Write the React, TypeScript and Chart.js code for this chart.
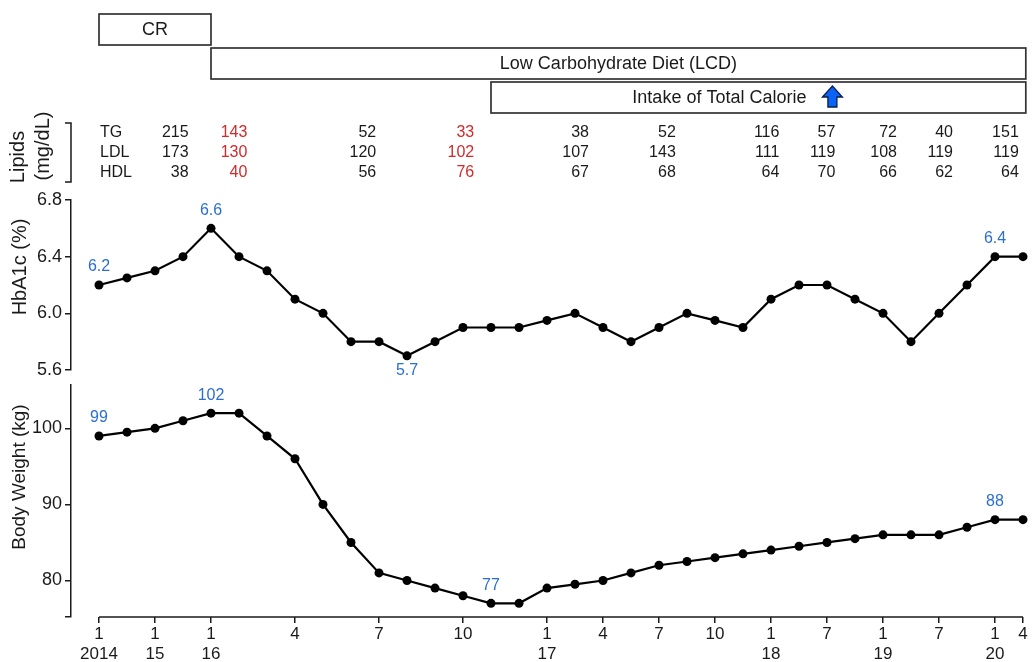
import React, { useEffect, useRef } from 'react';
import { Chart, registerables } from 'chart.js';

Chart.register(...registerables);

// ---------------- data ----------------
const hba1c = [6.2, 6.25, 6.3, 6.4, 6.6, 6.4, 6.3, 6.1, 6.0, 5.8, 5.8, 5.7, 5.8, 5.9, 5.9, 5.9, 5.95, 6.0, 5.9, 5.8, 5.9, 6.0, 5.95, 5.9, 6.1, 6.2, 6.2, 6.1, 6.0, 5.8, 6.0, 6.2, 6.4, 6.4];
const weight = [99, 99.5, 100, 101, 102, 102, 99, 96, 90, 85, 81, 80, 79, 78, 77, 77, 79, 79.5, 80, 81, 82, 82.5, 83, 83.5, 84, 84.5, 85, 85.5, 86, 86, 86, 87, 88, 88];

const tickIndex = [0, 2, 4, 7, 10, 13, 16, 18, 20, 22, 24, 26, 28, 30, 32, 33];
const tickMonth = ['1', '1', '1', '4', '7', '10', '1', '4', '7', '10', '1', '7', '1', '7', '1', '4'];
const tickYear = ['2014', '15', '16', '', '', '', '17', '', '', '', '18', '', '19', '', '20', ''];

const hbaTicks = [5.6, 6.0, 6.4, 6.8];
const hbaMin = 5.6;
const hbaMax = 6.8;
const weightTicks = [80, 90, 100];
const weightMin = 75.2;
const weightMax = 105.7;

const hbaMarked = [0, 4, 11, 32];
const hbaMarkBelow = [11];
const weightMarked = [0, 4, 14, 32];

const lipidRows = ['TG', 'LDL', 'HDL'];
const tg = [215, 143, 52, 33, 38, 52, 116, 57, 72, 40, 151];
const ldl = [173, 130, 120, 102, 107, 143, 111, 119, 108, 119, 119];
const hdl = [38, 40, 56, 76, 67, 68, 64, 70, 66, 62, 64];
const lipidTime = [3.2, 5.3, 9.9, 13.4, 17.5, 20.6, 24.3, 26.3, 28.5, 30.5, 32.85];
const lipidRed = [1, 3];

const phaseNames = ['CR', 'Low Carbohydrate Diet (LCD)', 'Intake of Total Calorie'];
const phaseStart = [0, 4, 14];
const phaseEnd = [4, 33.1, 33.1];

// ---------------- style ----------------
const FONT = '"Liberation Sans", Arial, "Noto Sans CJK JP", sans-serif';
const INK = '#1a1a1a';
const BLUE = '#2b6fd1';
const RED = '#d22a2a';

Chart.defaults.font.family = FONT;
Chart.defaults.color = INK;

function vText(ctx: CanvasRenderingContext2D, text: string, cx: number, cy: number, size: number) {
  ctx.save();
  ctx.translate(cx, cy);
  ctx.rotate(-Math.PI / 2);
  ctx.font = `${size}px ${FONT}`;
  ctx.textAlign = 'center';
  ctx.textBaseline = 'middle';
  ctx.fillStyle = INK;
  ctx.fillText(text, 0, 0);
  ctx.restore();
}

const topPlugin = {
  id: 'topDecor',
  afterDraw(chart: any) {
    const { ctx, chartArea } = chart;
    const x = chart.scales.x;
    ctx.save();
    // phase boxes
    const rowTop = [14, 48, 82];
    const h = 31;
    phaseNames.forEach((name, i) => {
      const x0 = x.getPixelForValue(phaseStart[i]);
      const x1 = x.getPixelForValue(phaseEnd[i]);
      ctx.strokeStyle = '#333';
      ctx.lineWidth = 1.7;
      ctx.strokeRect(x0, rowTop[i], x1 - x0, h);
      ctx.font = `18px ${FONT}`;
      ctx.fillStyle = INK;
      ctx.textAlign = 'center';
      ctx.textBaseline = 'middle';
      let cx = (x0 + x1) / 2;
      const cy = rowTop[i] + h / 2 + 1;
      if (i === 2) {
        const ax = cx + 74;
        cx -= 39;
        const top = 86, mid = 97, bot = 107, hw = 10, sw = 4.5;
        ctx.beginPath();
        ctx.moveTo(ax, top);
        ctx.lineTo(ax + hw, mid);
        ctx.lineTo(ax + sw, mid);
        ctx.lineTo(ax + sw, bot);
        ctx.lineTo(ax - sw, bot);
        ctx.lineTo(ax - sw, mid);
        ctx.lineTo(ax - hw, mid);
        ctx.closePath();
        ctx.fillStyle = '#0b63f5';
        ctx.fill();
        ctx.strokeStyle = '#0a1f4d';
        ctx.lineWidth = 1.3;
        ctx.stroke();
        ctx.fillStyle = INK;
      }
      ctx.fillText(name, cx, cy);
    });

    // lipid table
    const rowY = [133, 153, 173];
    const rowsData = [tg, ldl, hdl];
    ctx.font = `16px ${FONT}`;
    ctx.textBaseline = 'middle';
    lipidRows.forEach((r, ri) => {
      ctx.textAlign = 'left';
      ctx.fillStyle = INK;
      ctx.fillText(r, x.getPixelForValue(0) + 1, rowY[ri]);
      ctx.textAlign = 'right';
      rowsData[ri].forEach((v, c) => {
        ctx.fillStyle = lipidRed.includes(c) ? RED : INK;
        ctx.fillText(String(v), x.getPixelForValue(lipidTime[c]), rowY[ri]);
      });
    });

    // bracket
    const bx = chartArea.left;
    ctx.strokeStyle = INK;
    ctx.lineWidth = 1.5;
    ctx.beginPath();
    ctx.moveTo(bx - 6, 123);
    ctx.lineTo(bx, 123);
    ctx.lineTo(bx, 182);
    ctx.lineTo(bx - 6, 182);
    ctx.stroke();

    // titles
    vText(ctx, 'Lipids', 18, 157, 20);
    vText(ctx, '(mg/dL)', 43, 146, 20);
    vText(ctx, 'HbA1c (%)', 20, 267, 20);

    // value labels
    const meta = chart.getDatasetMeta(0);
    ctx.font = `16px ${FONT}`;
    ctx.fillStyle = BLUE;
    ctx.textAlign = 'center';
    ctx.textBaseline = 'middle';
    hbaMarked.forEach((i) => {
      const p = meta.data[i];
      const below = hbaMarkBelow.includes(i);
      ctx.fillText(hba1c[i].toFixed(1), p.x, p.y + (below ? 15 : -18));
    });
    ctx.restore();
  },
};

const bottomPlugin = {
  id: 'bottomDecor',
  afterDraw(chart: any) {
    const { ctx, chartArea } = chart;
    const x = chart.scales.x;
    ctx.save();
    // x baseline
    ctx.strokeStyle = INK;
    ctx.lineWidth = 1.5;
    ctx.beginPath();
    ctx.moveTo(x.getPixelForValue(0), chartArea.bottom);
    ctx.lineTo(x.getPixelForValue(weight.length - 1), chartArea.bottom);
    ctx.stroke();

    vText(ctx, 'Body Weight (kg)', 20, 477, 19);

    const meta = chart.getDatasetMeta(0);
    ctx.font = `16px ${FONT}`;
    ctx.fillStyle = BLUE;
    ctx.textAlign = 'center';
    ctx.textBaseline = 'middle';
    weightMarked.forEach((i) => {
      const p = meta.data[i];
      ctx.fillText(String(weight[i]), p.x, p.y - 18);
    });
    ctx.restore();
  },
};

const lineDataset = (vals: number[]) => ({
  data: vals.map((v, i) => ({ x: i, y: v })),
  borderColor: '#000',
  borderWidth: 2.2,
  pointRadius: 4.5,
  pointBackgroundColor: '#000',
  pointBorderWidth: 0,
  tension: 0,
  clip: false as any,
});

const yCommon = {
  grid: { drawOnChartArea: false, tickLength: 6, color: INK, lineWidth: 1.5 },
  border: { color: INK, width: 1.5 },
  afterFit: (s: any) => { s.width = 71; },
};

export default function App() {
  const refA = useRef<HTMLCanvasElement>(null);
  const refB = useRef<HTMLCanvasElement>(null);

  useEffect(() => {
    const a = new Chart(refA.current as HTMLCanvasElement, {
      type: 'line',
      data: { datasets: [lineDataset(hba1c) as any] },
      options: {
        animation: false,
        responsive: false,
        devicePixelRatio: 1,
        layout: { padding: { top: 200, bottom: 292, left: 0, right: 10 } },
        plugins: { legend: { display: false }, tooltip: { enabled: false } },
        scales: {
          x: { type: 'linear', min: -1, max: hba1c.length - 1, display: false },
          y: {
            ...yCommon,
            min: hbaMin,
            max: hbaMax,
            afterBuildTicks: (s: any) => { s.ticks = hbaTicks.map((v) => ({ value: v })); },
            ticks: { font: { size: 18 }, color: INK, padding: 3, callback: (v: any) => Number(v).toFixed(1) },
          } as any,
        },
      },
      plugins: [topPlugin],
    });

    const b = new Chart(refB.current as HTMLCanvasElement, {
      type: 'line',
      data: { datasets: [lineDataset(weight) as any] },
      options: {
        animation: false,
        responsive: false,
        devicePixelRatio: 1,
        layout: { padding: { top: 385, bottom: 0, left: 0, right: 10 } },
        plugins: { legend: { display: false }, tooltip: { enabled: false } },
        scales: {
          x: {
            type: 'linear',
            min: -1,
            max: weight.length - 1,
            border: { display: false },
            grid: { drawOnChartArea: false, tickLength: 6, color: INK, lineWidth: 1.5 },
            afterBuildTicks: (s: any) => { s.ticks = tickIndex.map((v) => ({ value: v })); },
            afterFit: (s: any) => { s.height = 45; },
            ticks: {
              autoSkip: false,
              maxRotation: 0,
              minRotation: 0,
              padding: 1,
              font: { size: 17 },
              color: INK,
              callback: (v: any) => {
                const k = tickIndex.indexOf(Number(v));
                if (k < 0) return '';
                return tickYear[k] ? [tickMonth[k], tickYear[k]] : tickMonth[k];
              },
            },
          } as any,
          y: {
            ...yCommon,
            min: weightMin,
            max: weightMax,
            afterBuildTicks: (s: any) => { s.ticks = [weightMin, ...weightTicks].map((v) => ({ value: v })); },
            ticks: { font: { size: 18 }, color: INK, padding: 3, callback: (v: any) => (weightTicks.includes(Number(v)) ? String(v) : '') },
          } as any,
        },
      },
      plugins: [bottomPlugin],
    });

    return () => { a.destroy(); b.destroy(); };
  }, []);

  const cStyle: React.CSSProperties = { position: 'absolute', left: 0, top: 0, width: 1033, height: 662 };
  return (
    <div style={{ position: 'absolute', left: 0, top: 0, width: 1033, height: 662, background: '#fff' }}>
      <canvas ref={refA} width={1033} height={662} style={cStyle} />
      <canvas ref={refB} width={1033} height={662} style={cStyle} />
    </div>
  );
}
